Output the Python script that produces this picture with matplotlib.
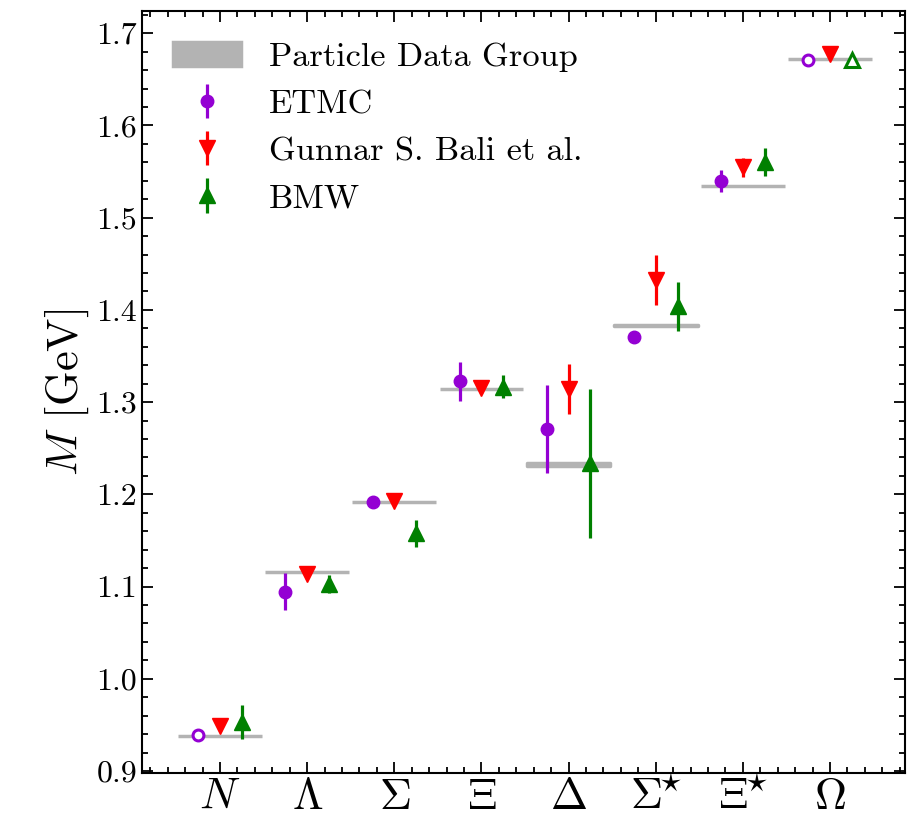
"""Baryon masses from lattice QCD compared with PDG values."""
import matplotlib
matplotlib.use('Agg')
import matplotlib.pyplot as plt
from matplotlib.ticker import MultipleLocator, FormatStrFormatter

plt.rcParams['font.family'] = 'serif'
plt.rcParams['font.serif'] = ['cmr10']
plt.rcParams['mathtext.fontset'] = 'cm'
plt.rcParams['axes.formatter.use_mathtext'] = True

# baryons on the x axis
baryons = [r'$N$', r'$\Lambda$', r'$\Sigma$', r'$\Xi$', r'$\Delta$',
           r'$\Sigma^{\!{\star}}$', r'$\Xi^{\!{\star}}$', r'$\Omega$']

# experimental masses [GeV]
pdg_mass = [0.9380, 1.1155, 1.1920, 1.3141, 1.2325, 1.3832, 1.5345, 1.6716]
pdg_err = [0.0, 0.0, 0.0, 0.0, 0.002, 0.0005, 0.0, 0.0]

# lattice results [GeV]; open markers are the inputs used to set the scale
etmc_mass = [0.939, 1.0944, 1.192, 1.3226, 1.2709, 1.3701, 1.5401, 1.6715]
etmc_err = [0.0, 0.020, 0.003, 0.021, 0.0475, 0.004, 0.012, 0.0]
etmc_open = [True, False, False, False, False, False, False, True]

bali_mass = [0.9486, 1.1136, 1.1927, 1.3152, 1.3141, 1.4323, 1.5545, 1.6775]
bali_err = [0.005, 0.005, 0.004, 0.005, 0.027, 0.027, 0.0103, 0.006]
bali_open = [False] * 8

bmw_mass = [0.953, 1.103, 1.1577, 1.3166, 1.2335, 1.4039, 1.5602, 1.6707]
bmw_err = [0.0184, 0.0096, 0.0145, 0.0126, 0.0806, 0.0266, 0.0148, 0.0]
bmw_open = [False, False, False, False, False, False, False, True]

fig = plt.figure(figsize=(9.08, 8.27), dpi=100)
ax = fig.add_axes([142 / 908, 54 / 827, 763 / 908, 762 / 827])

gray = '#b3b3b3'
for i, (m, e) in enumerate(zip(pdg_mass, pdg_err)):
    ax.fill_between([i - 0.48, i + 0.48], m - e, m + e, color=gray,
                    linewidth=2.5, joinstyle='round', zorder=1,
                    label='Particle Data Group' if i == 0 else None)


def plot_series(mass, err, hollow, offset, marker, color, ms, label):
    filled = [i for i in range(len(mass)) if not hollow[i]]
    empty = [i for i in range(len(mass)) if hollow[i]]
    ax.errorbar([i + offset for i in filled], [mass[i] for i in filled],
                yerr=[err[i] for i in filled], fmt=marker, color=color,
                ms=ms, elinewidth=2.3, capsize=0, zorder=3, label=label)
    if empty:
        ax.errorbar([i + offset for i in empty], [mass[i] for i in empty],
                    yerr=[err[i] for i in empty], fmt=marker, color=color,
                    mfc='white', mec=color, mew=2.2, ms=ms - 1.2,
                    elinewidth=2.3, capsize=0, zorder=3)


plot_series(etmc_mass, etmc_err, etmc_open, -0.25, 'o', 'darkviolet', 9, 'ETMC')
plot_series(bali_mass, bali_err, bali_open, 0.0, 'v', 'red', 11, 'Gunnar S. Bali et al.')
plot_series(bmw_mass, bmw_err, bmw_open, 0.25, '^', 'green', 11, 'BMW')

ax.set_xlim(-0.895, 7.86)
ax.set_ylim(0.8978, 1.7241)
ax.set_xticks(range(len(baryons)))
ax.set_xticklabels(baryons, fontsize=32)
ax.xaxis.set_minor_locator(MultipleLocator(0.2))
ax.yaxis.set_major_locator(MultipleLocator(0.1))
ax.yaxis.set_minor_locator(MultipleLocator(0.02))
ax.yaxis.set_major_formatter(FormatStrFormatter('%.1f'))
ax.tick_params(axis='y', labelsize=23)
ax.tick_params(which='both', direction='in', top=True, right=True, width=1.3)
ax.tick_params(which='major', length=8)
ax.tick_params(which='minor', length=4.5)
for spine in ax.spines.values():
    spine.set_linewidth(1.5)

ax.set_ylabel(r'$M$ [GeV]', fontsize=32)
ax.legend(loc='upper left', frameon=False, fontsize=24.7)

fig.savefig('out.png', dpi=100)
